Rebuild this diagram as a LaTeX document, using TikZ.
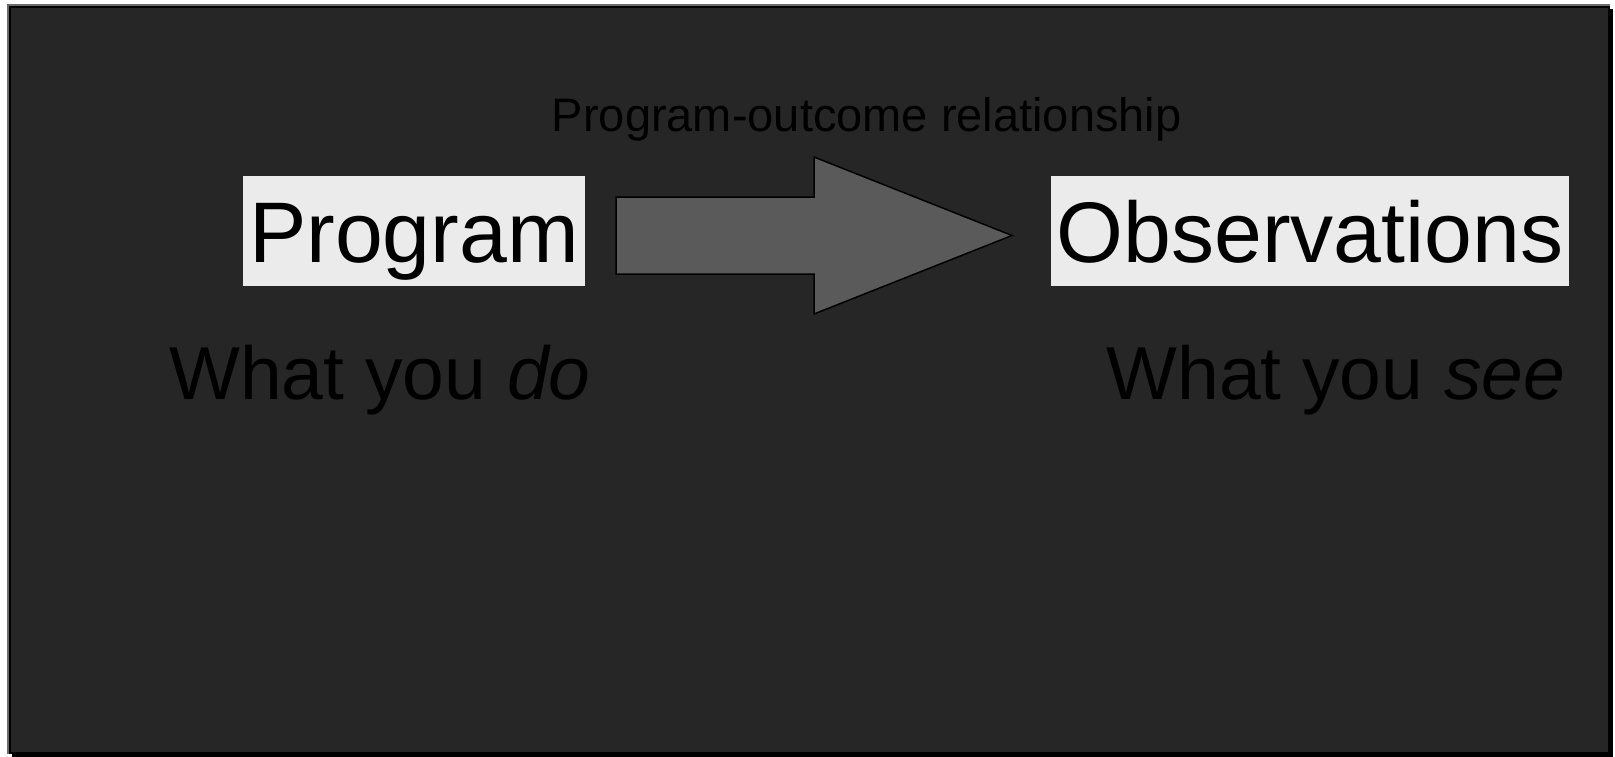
\documentclass[tikz,border=0pt]{standalone}
\usepackage{fontspec}
\setmainfont{Liberation Sans}
\definecolor{slidebg}{HTML}{262626}
\definecolor{framegray}{HTML}{6B6B6B}
\definecolor{arrowfill}{HTML}{5A5A5A}
\definecolor{boxfill}{HTML}{EBEBEB}
\tikzset{
  labelbox/.style={fill=boxfill, draw=none, inner sep=0pt, anchor=base,
    text height=86.3pt, text depth=23.4pt, font=\fontsize{86}{100}\selectfont, text=black},
  bigcaption/.style={anchor=base, inner sep=0pt, font=\fontsize{75}{90}\selectfont, text=black},
  toplabel/.style={anchor=base, inner sep=0pt, font=\fontsize{47}{56}\selectfont, text=black},
  blockarrow/.style={fill=arrowfill, draw=black, line width=1.5pt, line join=miter}
}
\begin{document}
\begin{tikzpicture}[x=1pt,y=-1pt]
\useasboundingbox (0,0) rectangle (1615,757);
\fill[white] (0,0) rectangle (1615,757);
% shadow
\fill[black] (12,9) rectangle (1613,757);
% slide panel
\fill[slidebg] (7,4) rectangle (1610,754);
\draw[black, line width=2pt] (10,7) rectangle (1609,753);
\draw[framegray, line width=2pt] (8,754) -- (8,5) -- (1610,5);

% title
\node[toplabel] (rel) at (866.7,132) {Program-outcome relationship};

% boxes
\node[labelbox, minimum width=342pt] (prog) at (414,262.3) {Program};
\node[labelbox, minimum width=518pt] (obs) at (1310,262.3) {Observations};

% block arrow
\draw[blockarrow] (616,197) -- (814,197) -- (814,157) -- (1012,235.5) -- (814,314) -- (814,274) -- (616,274) -- cycle;

% captions
\node[bigcaption] (do) at (380,399.5) {What you \textit{do}};
\node[bigcaption] (see) at (1335.8,399.5) {What you \textit{see}};
\end{tikzpicture}
\end{document}
